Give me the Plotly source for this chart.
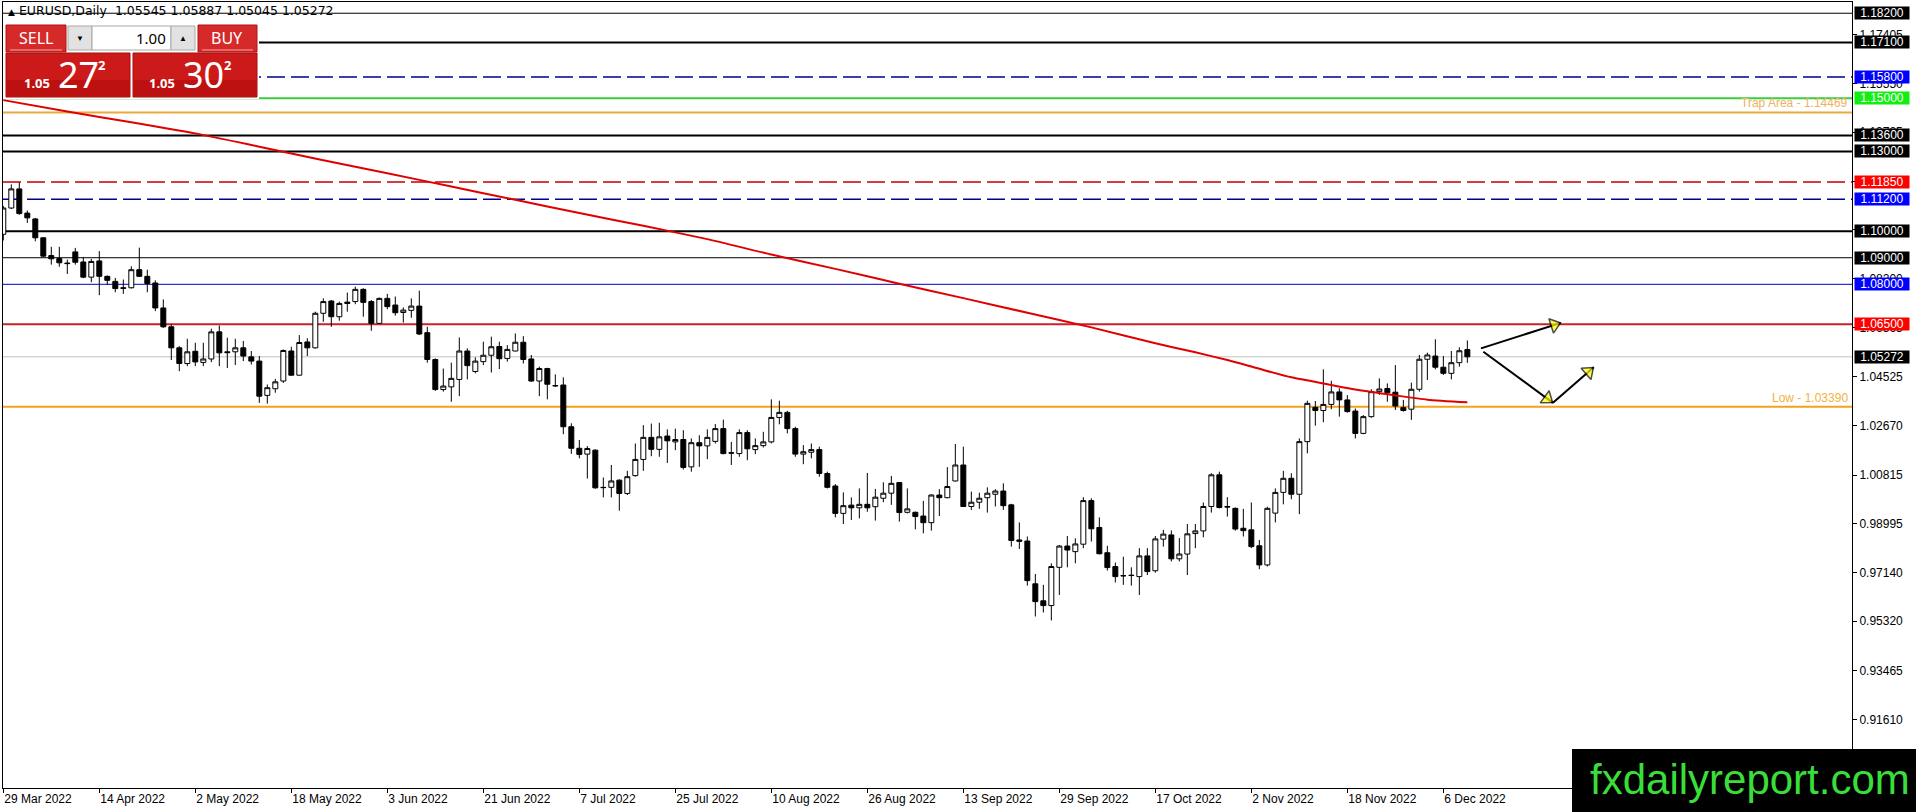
import math
import pandas as pd
import plotly.graph_objects as go

# EURUSD daily candles, 29 Mar 2022 .. 9 Dec 2022
opens = [1.0988, 1.1087, 1.1159, 1.1068, 1.1046, 1.0975, 1.0908, 1.0897, 1.0880, 1.0922,
         1.0884, 1.0827, 1.0888, 1.0830, 1.0811, 1.0787, 1.0787, 1.0855, 1.0830, 1.0805,
         1.0711, 1.0640, 1.0561, 1.0502, 1.0548, 1.0506, 1.0519, 1.0621, 1.0546, 1.0546,
         1.0561, 1.0527, 1.0511, 1.0382, 1.0407, 1.0436, 1.0549, 1.0458, 1.0583, 1.0561,
         1.0691, 1.0737, 1.0678, 1.0733, 1.0735, 1.0781, 1.0735, 1.0653, 1.0747, 1.0722,
         1.0694, 1.0702, 1.0718, 1.0618, 1.0517, 1.0404, 1.0414, 1.0442, 1.0549, 1.0472,
         1.0509, 1.0533, 1.0566, 1.0521, 1.0549, 1.0582, 1.0519, 1.0436, 1.0483, 1.0419,
         1.0421, 1.0264, 1.0183, 1.0161, 1.0176, 1.0036, 1.0036, 1.0063, 1.0013, 1.0080,
         1.0141, 1.0224, 1.0179, 1.0229, 1.0207, 1.0216, 1.0113, 1.0204, 1.0192, 1.0209,
         1.0257, 1.0166, 1.0163, 1.0242, 1.0178, 1.0193, 1.0207, 1.0299, 1.0318, 1.0257,
         1.0161, 1.0168, 1.0178, 1.0088, 1.0041, 0.9938, 0.9969, 0.9959, 0.9972, 0.9963,
         0.9995, 1.0014, 1.0054, 0.9942, 0.9942, 0.9928, 0.9903, 1.0007, 0.9997, 1.0060,
         1.0120, 0.9964, 0.9980, 0.9997, 1.0010, 1.0022, 0.9970, 0.9838, 0.9834, 0.9673,
         0.9609, 0.9591, 0.9735, 0.9815, 0.9794, 0.9822, 0.9986, 0.9885, 0.9790, 0.9738,
         0.9704, 0.9704, 0.9700, 0.9778, 0.9722, 0.9841, 0.9857, 0.9767, 0.9785, 0.9862,
         0.9872, 0.9964, 1.0083, 0.9964, 0.9957, 0.9882, 0.9876, 0.9816, 0.9744, 0.9939,
         1.0017, 1.0070, 1.0010, 1.0208, 1.0337, 1.0325, 1.0348, 1.0395, 1.0365, 1.0323,
         1.0239, 1.0302, 1.0396, 1.0408, 1.0394, 1.0336, 1.0330, 1.0405, 1.0518, 1.0530,
         1.0488, 1.0465, 1.0505, 1.05545]
highs = [1.1095, 1.1176, 1.1184, 1.1078, 1.1050, 1.0977, 1.0941, 1.0941, 1.0893, 1.0937,
         1.0903, 1.0896, 1.0925, 1.0833, 1.0824, 1.0818, 1.0868, 1.0938, 1.0855, 1.0815,
         1.0743, 1.0649, 1.0567, 1.0595, 1.0580, 1.0580, 1.0633, 1.0645, 1.0599, 1.0595,
         1.0587, 1.0549, 1.0530, 1.0423, 1.0444, 1.0555, 1.0565, 1.0609, 1.0597, 1.0697,
         1.0747, 1.0741, 1.0735, 1.0769, 1.0791, 1.0785, 1.0741, 1.0750, 1.0764, 1.0754,
         1.0713, 1.0747, 1.0776, 1.0640, 1.0521, 1.0483, 1.0505, 1.0600, 1.0559, 1.0525,
         1.0584, 1.0603, 1.0584, 1.0571, 1.0615, 1.0605, 1.0534, 1.0490, 1.0486, 1.0461,
         1.0450, 1.0277, 1.0214, 1.0191, 1.0179, 1.0073, 1.0120, 1.0066, 1.0098, 1.0201,
         1.0270, 1.0276, 1.0279, 1.0254, 1.0257, 1.0251, 1.0220, 1.0232, 1.0254, 1.0274,
         1.0291, 1.0207, 1.0254, 1.0251, 1.0220, 1.0245, 1.0367, 1.0362, 1.0324, 1.0264,
         1.0195, 1.0201, 1.0189, 1.0095, 1.0048, 1.0017, 0.9998, 1.0032, 1.0090, 1.0030,
         1.0055, 1.0079, 1.0056, 1.0032, 0.9945, 0.9985, 1.0010, 1.0029, 1.0112, 1.0199,
         1.0189, 1.0020, 1.0016, 1.0036, 1.0029, 1.0051, 0.9974, 0.9904, 0.9851, 0.9710,
         0.9669, 0.9750, 0.9819, 0.9853, 0.9844, 0.9999, 0.9995, 0.9923, 0.9816, 0.9753,
         0.9775, 0.9735, 0.9807, 0.9807, 0.9853, 0.9876, 0.9874, 0.9845, 0.9898, 0.9898,
         0.9979, 1.0089, 1.0095, 0.9999, 0.9960, 0.9955, 0.9979, 0.9838, 0.9963, 1.0032,
         1.0098, 1.0089, 1.0220, 1.0362, 1.0361, 1.0480, 1.0437, 1.0409, 1.0383, 1.0333,
         1.0308, 1.0405, 1.0446, 1.0427, 1.0496, 1.0365, 1.0430, 1.0534, 1.0543, 1.0593,
         1.0530, 1.0549, 1.0563, 1.05887]
lows = [1.0965, 1.1083, 1.1062, 1.1031, 1.0962, 1.0903, 1.0874, 1.0866, 1.0839, 1.0874,
        1.0823, 1.0808, 1.0759, 1.0798, 1.0770, 1.0764, 1.0784, 1.0828, 1.0770, 1.0699,
        1.0636, 1.0515, 1.0473, 1.0492, 1.0492, 1.0492, 1.0507, 1.0492, 1.0485, 1.0496,
        1.0511, 1.0498, 1.0354, 1.0351, 1.0392, 1.0429, 1.0456, 1.0457, 1.0530, 1.0558,
        1.0659, 1.0640, 1.0663, 1.0697, 1.0725, 1.0678, 1.0625, 1.0651, 1.0706, 1.0682,
        1.0656, 1.0674, 1.0609, 1.0505, 1.0399, 1.0396, 1.0358, 1.0379, 1.0442, 1.0465,
        1.0496, 1.0468, 1.0481, 1.0509, 1.0548, 1.0502, 1.0433, 1.0379, 1.0367, 1.0414,
        1.0236, 1.0162, 1.0145, 1.0069, 1.0031, 0.9998, 0.9998, 0.9948, 1.0007, 1.0076,
        1.0098, 1.0153, 1.0151, 1.0128, 1.0176, 1.0103, 1.0095, 1.0113, 1.0142, 1.0201,
        1.0160, 1.0120, 1.0151, 1.0138, 1.0161, 1.0186, 1.0201, 1.0273, 1.0239, 1.0151,
        1.0123, 1.0145, 1.0076, 1.0032, 0.9923, 0.9898, 0.9913, 0.9919, 0.9944, 0.9911,
        0.9980, 0.9970, 0.9907, 0.9938, 0.9878, 0.9863, 0.9873, 0.9928, 0.9995, 1.0058,
        0.9962, 0.9951, 0.9955, 0.9941, 0.9964, 0.9951, 0.9813, 0.9804, 0.9666, 0.9550,
        0.9565, 0.9535, 0.9631, 0.9735, 0.9750, 0.9807, 0.9832, 0.9784, 0.9723, 0.9678,
        0.9669, 0.9666, 0.9631, 0.9706, 0.9715, 0.9813, 0.9757, 0.9757, 0.9706, 0.9807,
        0.9848, 0.9941, 0.9957, 0.9926, 0.9873, 0.9851, 0.9807, 0.9728, 0.9738, 0.9904,
        0.9972, 0.9991, 0.9935, 1.0164, 1.0268, 1.0281, 1.0330, 1.0302, 1.0317, 1.0220,
        1.0236, 1.0298, 1.0384, 1.0358, 1.0327, 1.0321, 1.0290, 1.0396, 1.0440, 1.0480,
        1.0459, 1.0442, 1.0490, 1.05045]
closes = [1.1087, 1.1159, 1.1066, 1.1050, 1.0975, 1.0906, 1.0896, 1.0881, 1.0878, 1.0883,
          1.0827, 1.0886, 1.0830, 1.0815, 1.0784, 1.0785, 1.0855, 1.0830, 1.0803, 1.0711,
          1.0640, 1.0561, 1.0502, 1.0546, 1.0508, 1.0519, 1.0621, 1.0542, 1.0543, 1.0561,
          1.0530, 1.0511, 1.0379, 1.0411, 1.0433, 1.0551, 1.0458, 1.0581, 1.0561, 1.0691,
          1.0735, 1.0678, 1.0728, 1.0728, 1.0781, 1.0732, 1.0653, 1.0747, 1.0716, 1.0693,
          1.0703, 1.0718, 1.0613, 1.0517, 1.0404, 1.0417, 1.0446, 1.0549, 1.0494, 1.0511,
          1.0533, 1.0565, 1.0520, 1.0555, 1.0582, 1.0517, 1.0436, 1.0483, 1.0424, 1.0418,
          1.0264, 1.0183, 1.0160, 1.0182, 1.0034, 1.0035, 1.0060, 1.0013, 1.0076, 1.0141,
          1.0224, 1.0179, 1.0226, 1.0211, 1.0216, 1.0111, 1.0204, 1.0192, 1.0224, 1.0257,
          1.0163, 1.0165, 1.0242, 1.0181, 1.0193, 1.0207, 1.0299, 1.0318, 1.0257, 1.0161,
          1.0170, 1.0178, 1.0088, 1.0036, 0.9938, 0.9967, 0.9959, 0.9972, 0.9959, 0.9999,
          1.0014, 1.0051, 0.9941, 0.9955, 0.9926, 0.9903, 1.0007, 0.9997, 1.0039, 1.0120,
          0.9964, 0.9980, 0.9995, 1.0014, 1.0022, 0.9967, 0.9836, 0.9833, 0.9685, 0.9606,
          0.9591, 0.9738, 0.9815, 0.9800, 0.9823, 0.9986, 0.9880, 0.9786, 0.9734, 0.9700,
          0.9703, 0.9705, 0.9778, 0.9719, 0.9842, 0.9860, 0.9767, 0.9785, 0.9861, 0.9872,
          0.9964, 1.0083, 0.9960, 0.9962, 0.9879, 0.9873, 0.9813, 0.9744, 0.9957, 1.0017,
          1.0070, 1.0010, 1.0208, 1.0352, 1.0325, 1.0348, 1.0395, 1.0365, 1.0321, 1.0239,
          1.0302, 1.0396, 1.0406, 1.0392, 1.0342, 1.0325, 1.0405, 1.0518, 1.0534, 1.0488,
          1.0465, 1.0505, 1.0550, 1.05272]

# long moving average (red), sampled along the bars
ma_bars = [0, 8, 16, 24, 32, 40, 48, 56, 64, 72, 80, 88, 96, 104, 112, 120, 128, 136, 144,
           149, 153, 157, 161, 165, 169, 174, 178, 183]
ma_values = [1.1493, 1.1450, 1.1410, 1.1368, 1.1318, 1.1267, 1.1218, 1.1168, 1.1118, 1.1068,
             1.1020, 1.0970, 1.0912, 1.0858, 1.0802, 1.0748, 1.0693, 1.0638, 1.0578,
             1.0544, 1.0515, 1.0482, 1.0450, 1.0427, 1.0404, 1.0382, 1.0366, 1.0356]

# horizontal levels
level_prices = [1.182, 1.171, 1.158, 1.150, 1.14469, 1.136, 1.130, 1.1185, 1.112,
                1.100, 1.090, 1.080, 1.065, 1.05272, 1.0339]
level_colors = ["#000000", "#000000", "#000090", "#3ccc3c", "#e8aa40", "#000000", "#000000",
                "#c00000", "#000090", "#000000", "#000000", "#0000c0", "#c8222a", "#c0c0c0",
                "#f2a31e"]
level_widths = [1, 2, 1.4, 2, 2, 2, 2, 1.4, 1.4, 2, 1, 1, 2, 1, 2]
level_dashes = ["solid", "solid", "18px,6px", "solid", "solid", "solid", "solid", "18px,6px",
                "18px,6px", "solid", "solid", "solid", "solid", "solid", "solid"]

# price boxes on the right scale
box_prices = [1.182, 1.171, 1.158, 1.150, 1.136, 1.130, 1.1185, 1.112, 1.100, 1.090,
              1.080, 1.065, 1.05272]
box_colors = ["#000000", "#000000", "#0000ff", "#11ee11", "#000000", "#000000", "#ff0000",
              "#0000ff", "#000000", "#000000", "#0000ff", "#ff0000", "#000000"]

axis_ticks = [1.17405, 1.15550, 1.13725, 1.11885, 1.10045, 1.08200, 1.06365, 1.04525,
              1.02670, 1.00815, 0.98995, 0.97140, 0.95320, 0.93465, 0.91610]

# drawn arrows: start bar, start price, end bar, end price
arrows = [(184.7, 1.0559, 194.7, 1.0655),
          (185.0, 1.0546, 193.7, 1.0354),
          (193.7, 1.0354, 198.8, 1.0488)]

bars = list(range(len(opens)))
dates = pd.bdate_range("2022-03-29", periods=len(opens))
date_labels = [f"{d.day} {d.strftime('%b %Y')}" for d in dates]

W, H = 1916, 812
ML, MR, MT, MB = 3, 64, 2, 24
PW, PH = W - ML - MR, H - MT - MB
X_RANGE = [-0.0375, 231.08]
Y_RANGE = [0.89046, 1.18623]
FONT = "Liberation Sans"


def px_x(px):
    return (px - ML) / PW


def px_y(py):
    return (H - MB - py) / PH


fig = go.Figure()

fig.add_trace(go.Candlestick(
    x=bars, open=opens, high=highs, low=lows, close=closes,
    increasing=dict(line=dict(color="black", width=1), fillcolor="white"),
    decreasing=dict(line=dict(color="black", width=1), fillcolor="black"),
    whiskerwidth=0, hoverinfo="skip"))

fig.add_trace(go.Scatter(x=ma_bars, y=ma_values, mode="lines",
                         line=dict(color="#e00000", width=2, shape="spline", smoothing=0.6),
                         hoverinfo="skip"))

# arrows: black shaft + yellow head
sx = PW / (X_RANGE[1] - X_RANGE[0])
sy = PH / (Y_RANGE[1] - Y_RANGE[0])
for x0, y0, x1, y1 in arrows:
    fig.add_trace(go.Scatter(x=[x0, x1], y=[y0, y1], mode="lines",
                             line=dict(color="black", width=2), hoverinfo="skip"))
    dx, dy = (x1 - x0) * sx, (y1 - y0) * sy
    n = math.hypot(dx, dy)
    hx = x1 - 7 * dx / n / sx
    hy = y1 - 7 * dy / n / sy
    fig.add_trace(go.Scatter(
        x=[x0, hx], y=[y0, hy], mode="markers", hoverinfo="skip",
        marker=dict(symbol="triangle-up", size=[0, 13], color="#ffff00",
                    angleref="previous", line=dict(color="black", width=1.5))))

shapes = []
for p, c, w, d in zip(level_prices, level_colors, level_widths, level_dashes):
    shapes.append(dict(type="line", xref="paper", x0=0, x1=1, yref="y", y0=p, y1=p,
                       line=dict(color=c, width=w, dash=d), layer="below"))

annotations = []
for p, c in zip(box_prices, box_colors):
    annotations.append(dict(xref="paper", x=1, xanchor="left", xshift=2, yref="y", y=p,
                            yanchor="middle", text=f"{p:.5f}", showarrow=False,
                            font=dict(family=FONT, size=12, color="white"),
                            bgcolor=c, width=54, height=12, borderpad=0, align="center"))

annotations.append(dict(xref="paper", x=1, xanchor="right", xshift=-2, yref="y", y=1.14469,
                        yanchor="bottom", text="Trap Area - 1.14469", showarrow=False,
                        font=dict(family=FONT, size=12, color="#f0b060")))
annotations.append(dict(xref="paper", x=1, xanchor="right", xshift=-2, yref="y", y=1.0339,
                        yanchor="bottom", text="Low - 1.03390", showarrow=False,
                        font=dict(family=FONT, size=12, color="#f4b040")))

# header
annotations.append(dict(xref="paper", yref="paper", x=px_x(6), y=px_y(11), xanchor="left",
                        yanchor="middle", showarrow=False,
                        text="<span style='font-size:9px'>▲</span> EURUSD,Daily&nbsp; 1.05545 1.05887 1.05045 1.05272",
                        font=dict(family="DejaVu Sans", size=12.5, color="black")))

# one-click trading panel
def rect(x0, y0, x1, y1, fill, line=None):
    shapes.append(dict(type="rect", xref="paper", yref="paper",
                       x0=px_x(x0), x1=px_x(x1), y0=px_y(y0), y1=px_y(y1),
                       fillcolor=fill, layer="above",
                       line=dict(color=line or fill, width=1 if line else 0)))


def hline(x0, x1, y, color):
    shapes.append(dict(type="line", xref="paper", yref="paper", x0=px_x(x0), x1=px_x(x1),
                       y0=px_y(y), y1=px_y(y), layer="above", line=dict(color=color, width=1)))


def label(x, y, text, size, color="white", bold=False, anchor="center"):
    t = f"<b>{text}</b>" if bold else text
    annotations.append(dict(xref="paper", yref="paper", x=px_x(x), y=px_y(y), xanchor=anchor,
                            yanchor="middle", text=t, showarrow=False,
                            font=dict(family="Noto Sans", size=size, color=color)))


rect(3, 21, 259, 99, "white")
rect(6, 25, 66, 52, "#d62a2a", "#b01414")
rect(198, 25, 257, 52, "#d62a2a", "#b01414")
rect(68, 26, 92, 50, "#e2e2e2", "#a8a8a8")
rect(92, 26, 171, 50, "white", "#a8a8a8")
rect(171, 26, 195, 50, "#e2e2e2", "#a8a8a8")
rect(6, 53, 130, 97, "#cc1a1a", "#a80c0c")
rect(133, 53, 257, 97, "#cc1a1a", "#a80c0c")
rect(7, 80, 129, 96, "#bd1010")
rect(134, 80, 256, 96, "#bd1010")
hline(10, 62, 50, "#f4a6a6")
hline(202, 253, 50, "#f4a6a6")

label(36, 38, "SELL", 16)
label(227, 38, "BUY", 16)
label(80, 38, "▼", 8, "black")
label(183, 38, "▲", 8, "black")
label(168, 38, "1.00", 15, "black", anchor="right")
label(37, 83, "1.05", 13, bold=True)
label(78, 74, "27", 36)
label(101, 65, "2", 13, bold=True)
label(162, 83, "1.05", 13, bold=True)
label(203, 74, "30", 36)
label(227, 65, "2", 13, bold=True)

# watermark
shapes.append(dict(type="rect", xref="paper", yref="paper", x0=px_x(1572), x1=px_x(1920),
                   y0=px_y(749), y1=px_y(815), fillcolor="black", line=dict(width=0),
                   layer="above"))
annotations.append(dict(xref="paper", yref="paper", x=px_x(1750), y=px_y(779),
                        xanchor="center", yanchor="middle", text="fxdailyreport.com",
                        showarrow=False, font=dict(family="Liberation Sans", size=42,
                                                   color="#3ade3a")))

fig.update_layout(
    width=W, height=H,
    margin=dict(l=ML, r=MR, t=MT, b=MB, autoexpand=False),
    paper_bgcolor="white", plot_bgcolor="white",
    showlegend=False, hovermode=False,
    boxgap=0.38, boxgroupgap=0,
    shapes=shapes, annotations=annotations,
    xaxis=dict(range=X_RANGE, rangeslider=dict(visible=False), showgrid=False,
               zeroline=False, showline=True, linecolor="black", linewidth=1, mirror=True,
               tickvals=bars[::12], ticktext=date_labels[::12], ticks="outside",
               ticklen=4, tickcolor="black", ticklabelposition="outside right",
               tickfont=dict(family=FONT, size=12, color="black")),
    yaxis=dict(range=Y_RANGE, side="right", showgrid=False, zeroline=False,
               showline=True, linecolor="black", linewidth=1, mirror=True,
               tickvals=axis_ticks, ticktext=[f"{v:.5f}" for v in axis_ticks],
               ticks="outside", ticklen=4, tickcolor="black",
               tickfont=dict(family=FONT, size=12, color="black")),
)

# the page body has a default margin; remove it so the figure sits at the window corner
fig.write_html("out.html", config={"displayModeBar": False},
               post_script="document.body.style.margin='0';document.body.style.overflow='hidden';")
